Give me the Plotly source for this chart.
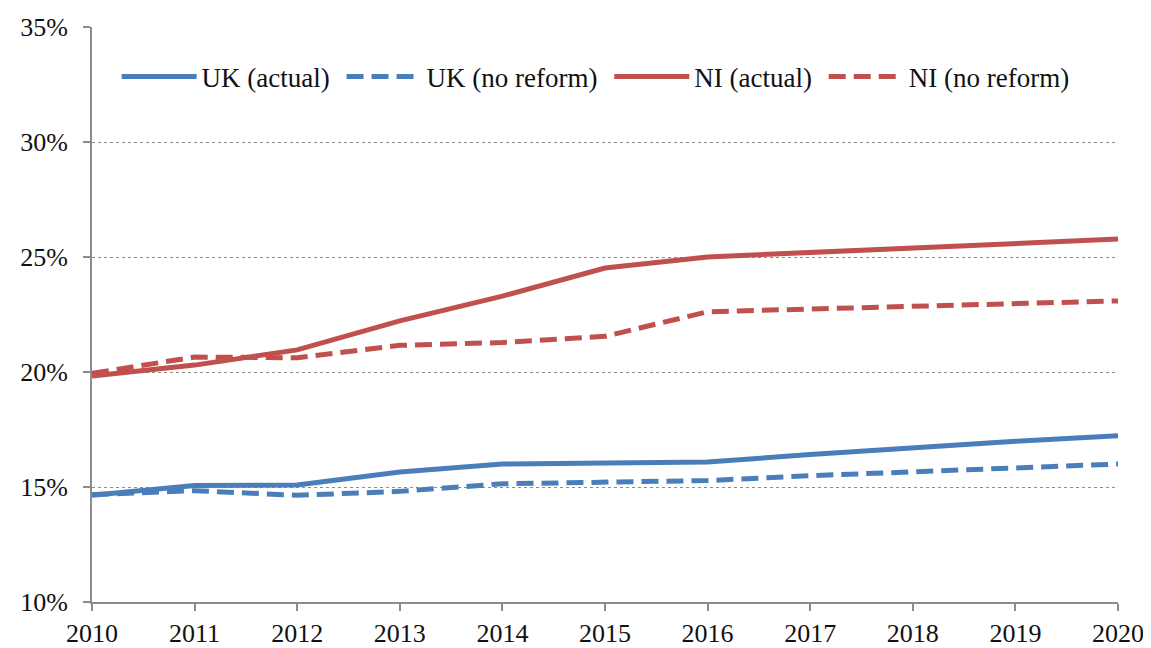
import plotly.graph_objects as go

years = list(range(2010, 2021))
uk_actual = [14.64, 15.06, 15.09, 15.65, 16.00, 16.03, 16.09, 16.41, 16.72, 16.99, 17.23]
uk_no_reform = [14.67, 14.84, 14.64, 14.81, 15.14, 15.23, 15.28, 15.49, 15.65, 15.83, 16.00]
ni_actual = [19.83, 20.30, 20.96, 22.22, 23.30, 24.52, 25.00, 25.20, 25.39, 25.58, 25.78]
ni_no_reform = [19.94, 20.65, 20.62, 21.16, 21.28, 21.55, 22.62, 22.74, 22.84, 22.94, 23.09]

y_ticks = [10, 15, 20, 25, 30, 35]

BLUE = "#4A7EBB"
RED = "#C0504D"
FONT = "Liberation Serif"
TEXT = dict(family=FONT, size=26, color="#111111")
PAD = "\u00a0"  # a little extra room between legend entries

series = [
    ("UK (actual)", uk_actual, BLUE, "solid"),
    ("UK (no reform)", uk_no_reform, BLUE, "17px,8px"),
    ("NI (actual)", ni_actual, RED, "solid"),
    ("NI (no reform)", ni_no_reform, RED, "17px,8px"),
]

fig = go.Figure()
for name, vals, color, dash in series:
    fig.add_trace(go.Scatter(
        x=years, y=vals, mode="lines", name=name + PAD,
        line=dict(color=color, width=5, dash=dash),
    ))

# the page body adds ~8px on the left/top, margins compensate for it
fig.update_layout(
    template="none",
    width=1151, height=648,
    margin=dict(l=84, r=41, t=19, b=54, autoexpand=False),
    plot_bgcolor="white", paper_bgcolor="white",
    font=TEXT,
    legend=dict(
        orientation="h", x=0.024, y=0.913, xanchor="left", yanchor="middle",
        font=dict(family=FONT, size=27, color="#111111"),
        itemwidth=75, bgcolor="rgba(0,0,0,0)",
    ),
)
axis_style = dict(
    showline=True, linecolor="#8c8c8c", linewidth=2,
    ticks="outside", ticklen=7, tickcolor="#8c8c8c", tickwidth=2,
    zeroline=False, automargin=False, tickfont=TEXT,
)
fig.update_xaxes(range=[2010, 2020], tickvals=years, showgrid=False, **axis_style)
fig.update_yaxes(
    range=[10, 35], tickvals=y_ticks, ticktext=[f"{v}%" for v in y_ticks],
    showgrid=True, gridcolor="#8c8c8c", griddash="dot", gridwidth=1,
    ticklabelstandoff=10,
    **axis_style,
)

fig.write_html("out.html")
